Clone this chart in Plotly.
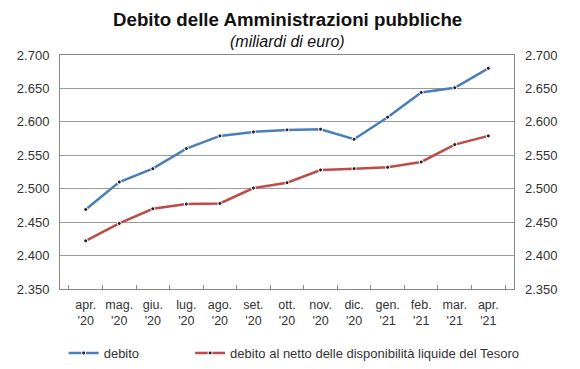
import plotly.graph_objects as go

categories = ["apr.<br>'20", "mag.<br>'20", "giu.<br>'20", "lug.<br>'20", "ago.<br>'20", "set.<br>'20",
              "ott.<br>'20", "nov.<br>'20", "dic.<br>'20", "gen.<br>'21", "feb.<br>'21", "mar.<br>'21", "apr.<br>'21"]
debito = [2469, 2510, 2530, 2560, 2579, 2585, 2588, 2589, 2574, 2607, 2644, 2651, 2680]
debito_netto = [2422, 2448, 2470, 2477, 2478, 2501, 2509, 2528, 2530, 2532, 2540, 2566, 2579]
y_ticks = [2350, 2400, 2450, 2500, 2550, 2600, 2650, 2700]
y_labels = ["2.350", "2.400", "2.450", "2.500", "2.550", "2.600", "2.650", "2.700"]

BLUE = "#4A7EBB"
RED = "#BE4B48"
FONT = "Liberation Sans, Arial, sans-serif"

fig = go.Figure()
fig.add_trace(go.Scatter(x=categories, y=debito, name="debito", mode="lines+markers",
                         line=dict(color=BLUE, width=2.5), legend="legend",
                         marker=dict(size=4, color="#222", line=dict(color="white", width=1))))
fig.add_trace(go.Scatter(x=categories, y=debito_netto,
                         name="debito al netto delle disponibilità liquide del Tesoro",
                         mode="lines+markers", line=dict(color=RED, width=2.5), legend="legend2",
                         marker=dict(size=4, color="#222", line=dict(color="white", width=1))))
fig.add_trace(go.Scatter(x=categories, y=debito, yaxis="y2", showlegend=False,
                         mode="lines", line=dict(width=0), hoverinfo="skip", opacity=0))

axis_common = dict(range=[2350, 2700], tickvals=y_ticks, ticktext=y_labels, automargin=False,
                   tickfont=dict(family=FONT, size=13, color="#333"))

legend_common = dict(orientation="h", xref="container", yref="container", y=0.065,
                     xanchor="left", yanchor="middle", font=dict(family=FONT, size=13, color="#333"),
                     bgcolor="rgba(0,0,0,0)")

fig.update_layout(
    width=580, height=369,
    margin=dict(l=52, r=74, t=47, b=88, autoexpand=False),
    paper_bgcolor="white", plot_bgcolor="white",
    font=dict(family=FONT, color="#222"),
    annotations=[
        dict(text="<b>Debito delle Amministrazioni pubbliche</b>", xref="paper", yref="paper",
             x=0.5, y=1, yshift=36, xanchor="center", yanchor="middle", showarrow=False,
             font=dict(family=FONT, size=18.7, color="#111")),
        dict(text="<i>(miliardi di euro)</i>", xref="paper", yref="paper",
             x=0.5, y=1, yshift=14, xanchor="center", yanchor="middle", showarrow=False,
             font=dict(family=FONT, size=16, color="#111")),
    ],
    xaxis=dict(type="category", tickson="boundaries", ticks="inside", ticklen=4, tickcolor="#888",
               showline=True, linecolor="#888", linewidth=1, mirror=True, showgrid=False,
               tickangle=0, automargin=False, ticklabelstandoff=4,
               tickfont=dict(family=FONT, size=12.5, color="#333")),
    yaxis=dict(**axis_common, ticklabelstandoff=7, showgrid=True, gridcolor="#9a9a9a", gridwidth=1,
               showline=True, linecolor="#888", linewidth=1, mirror=True, ticks="", zeroline=False),
    yaxis2=dict(**axis_common, ticklabelstandoff=10, overlaying="y", side="right", showgrid=False,
                showline=False, ticks="", zeroline=False),
    showlegend=True,
    legend=dict(**legend_common, x=0.096),
    legend2=dict(**legend_common, x=0.314),
)

fig.write_html("out.html")
